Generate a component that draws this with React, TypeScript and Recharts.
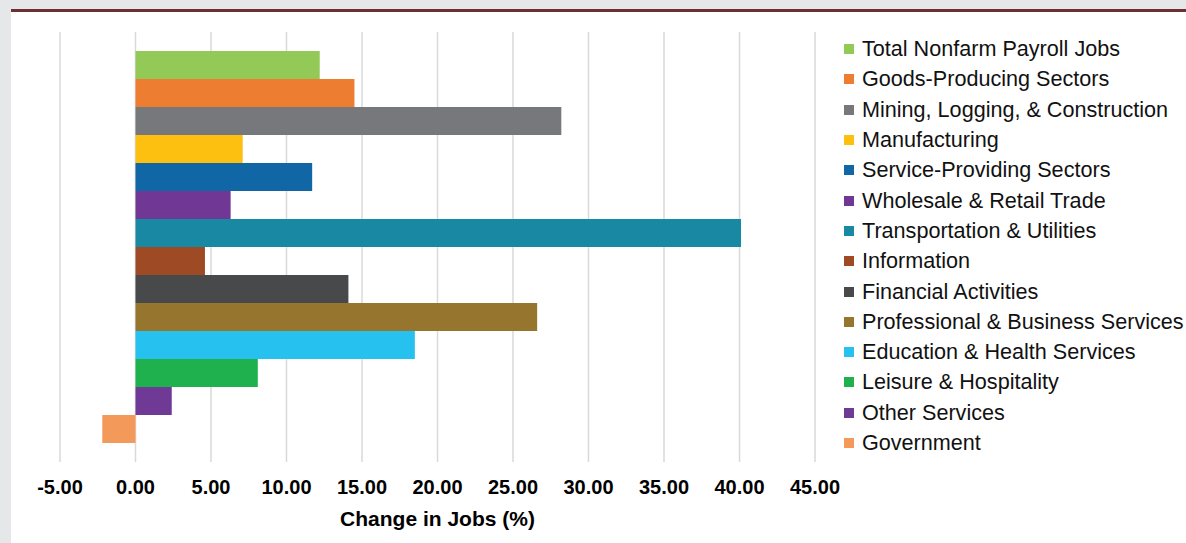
import React from 'react';
import { BarChart, Bar, XAxis, YAxis, CartesianGrid, Legend } from 'recharts';

const categories = [
  'Total Nonfarm Payroll Jobs',
  'Goods-Producing Sectors',
  'Mining, Logging, & Construction',
  'Manufacturing',
  'Service-Providing Sectors',
  'Wholesale & Retail Trade',
  'Transportation & Utilities',
  'Information',
  'Financial Activities',
  'Professional & Business Services',
  'Education & Health Services',
  'Leisure & Hospitality',
  'Other Services',
  'Government',
];

const values = [12.2, 14.5, 28.2, 7.1, 11.7, 6.3, 40.1, 4.6, 14.1, 26.6, 18.5, 8.1, 2.4, -2.2];

const colors = [
  '#93c956',
  '#ed7d31',
  '#77787b',
  '#fdc010',
  '#1167a5',
  '#703894',
  '#1888a3',
  '#9e4a24',
  '#48494b',
  '#96762e',
  '#27c1f0',
  '#20b14f',
  '#6f3a96',
  '#f39a5a',
];

const xTicks = [-5, 0, 5, 10, 15, 20, 25, 30, 35, 40, 45];

const FONT = '"Liberation Sans", Arial, Helvetica, sans-serif';

const row: Record<string, number | string> = { name: 'Change' };
categories.forEach((_, i) => {
  row[`s${i}`] = values[i];
});
const data = [row];

const Tick = (props: any) => {
  const { x, y, payload } = props;
  return (
    <text
      x={x}
      y={y + 24}
      textAnchor="middle"
      fontFamily={FONT}
      fontSize={20}
      fontWeight="bold"
      fill="#000"
    >
      {Number(payload.value).toFixed(2)}
    </text>
  );
};

const AxisTitle = (props: any) => {
  const vb = props.viewBox || {};
  return (
    <text
      x={vb.x + vb.width / 2}
      y={vb.y + 64}
      textAnchor="middle"
      fontFamily={FONT}
      fontSize={21}
      fontWeight="bold"
      fill="#000"
    >
      Change in Jobs (%)
    </text>
  );
};

const LegendContent = () => (
  <div style={{ paddingTop: 2, fontFamily: FONT }}>
    {categories.map((c, i) => (
      <div
        key={c}
        style={{
          height: 30.3,
          display: 'flex',
          alignItems: 'center',
          whiteSpace: 'nowrap',
        }}
      >
        <span
          style={{
            display: 'inline-block',
            width: 10,
            height: 10,
            marginLeft: 29,
            marginRight: 8,
            background: colors[i],
          }}
        />
        <span style={{ fontSize: 21.6, color: '#111' }}>{c}</span>
      </div>
    ))}
  </div>
);

export default function App() {
  return (
    <div
      style={{
        position: 'absolute',
        left: 0,
        top: 0,
        width: 1186,
        height: 543,
        background: '#e6e7e8',
        overflow: 'hidden',
      }}
    >
      <div
        style={{
          position: 'absolute',
          left: 11,
          top: 9,
          width: 1175,
          height: 3,
          background: '#6d3032',
        }}
      />
      <div
        style={{
          position: 'absolute',
          left: 11,
          top: 12,
          width: 1175,
          height: 531,
          background: '#ffffff',
        }}
      >
        <BarChart
          width={1175}
          height={531}
          data={data}
          layout="vertical"
          margin={{ top: 20, right: 0, bottom: 0, left: 49 }}
          barCategoryGap={19}
          barGap={0}
        >
          <CartesianGrid horizontal={false} stroke="#d9d9d9" strokeWidth={1.5} />
          <XAxis
            type="number"
            domain={[-5, 45]}
            ticks={xTicks}
            axisLine={false}
            tickLine={false}
            height={81}
            tick={<Tick />}
            interval={0}
            allowDataOverflow
            label={<AxisTitle />}
          />
          <YAxis type="category" dataKey="name" hide />
          <Legend
            layout="vertical"
            align="right"
            verticalAlign="top"
            content={<LegendContent />}
            wrapperStyle={{ width: 371, left: 804, top: 20 }}
          />
          {categories.map((c, i) => (
            <Bar
              key={c}
              dataKey={`s${i}`}
              name={c}
              fill={colors[i]}
              isAnimationActive={false}
            />
          ))}
        </BarChart>
      </div>
    </div>
  );
}
